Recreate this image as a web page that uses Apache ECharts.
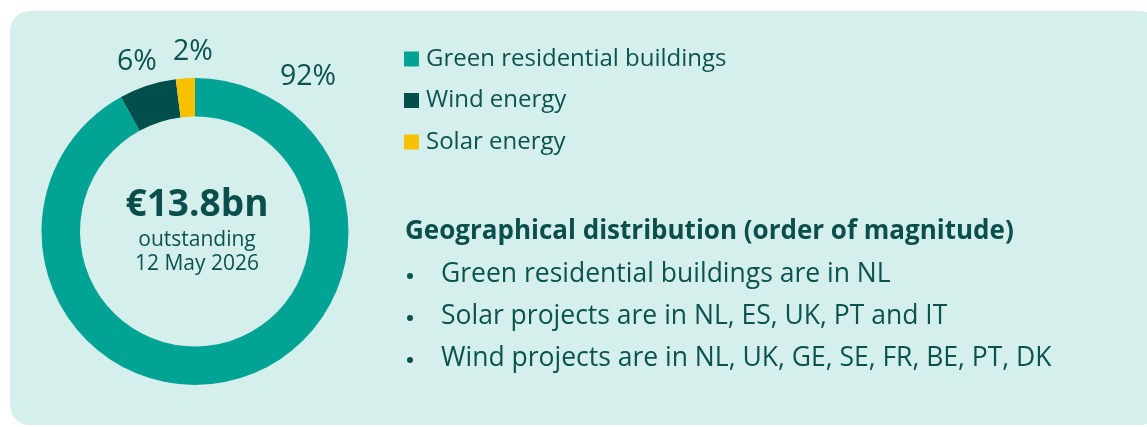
<!DOCTYPE html>
<html>
<head>
<meta charset="utf-8">
<script src="https://cdn.jsdelivr.net/npm/echarts@6/dist/echarts.min.js"></script>
<style>
  html, body { margin: 0; padding: 0; background: #ffffff; }
  #chart { width: 1147px; height: 427px; }
</style>
</head>
<body>
<div id="chart"></div>
<script>
// Portfolio split by asset type (share of total, %)
const categories = ['Green residential buildings', 'Wind energy', 'Solar energy'];
const shares = [92, 6, 2];

// Headline figure in the middle of the ring
const headline = '€13.8bn';
const subLines = ['outstanding', '12 May 2026'];

// Geographical notes
const geoTitle = 'Geographical distribution (order of magnitude)';
const geoBullets = [
  'Green residential buildings are in NL',
  'Solar projects are in NL, ES, UK, PT and IT',
  'Wind projects are in NL, UK, GE, SE, FR, BE, PT, DK'
];

const palette = ['#00a394', '#004f4d', '#f5c100'];
const ink = '#0a5350';
const FONT = '"Open Sans", sans-serif';

// Where each percentage label sits around the ring
const labelSpots = [
  { x: 308, y: 77 },
  { x: 137, y: 62 },
  { x: 193, y: 52 }
];

const chart = echarts.init(document.getElementById('chart'), null, { renderer: 'canvas' });

const textEls = [
  {
    type: 'text', x: 197, y: 205,
    style: { text: headline, fill: '#0b4f4c', font: 'bold 37px ' + FONT, textAlign: 'center', textVerticalAlign: 'middle' }
  },
  {
    type: 'text', x: 197, y: 240,
    style: { text: subLines[0], fill: ink, font: '21px ' + FONT, textAlign: 'center', textVerticalAlign: 'middle' }
  },
  {
    type: 'text', x: 197, y: 264,
    style: { text: subLines[1], fill: ink, font: '21px ' + FONT, textAlign: 'center', textVerticalAlign: 'middle' }
  },
  {
    type: 'text', x: 405, y: 232,
    style: { text: geoTitle, fill: '#0b4f4c', font: 'bold 26px ' + FONT, textVerticalAlign: 'middle' }
  }
];
geoBullets.forEach((t, i) => {
  const y = 274 + i * 42;
  // bullet marker
  textEls.push({
    type: 'circle', shape: { cx: 410, cy: y + 2, r: 3 },
    style: { fill: ink }
  });
  textEls.push({
    type: 'text', x: 441, y: y,
    style: { text: t, fill: ink, font: '26.5px ' + FONT, textVerticalAlign: 'middle' }
  });
});

chart.setOption({
  animation: false,
  color: palette,
  legend: {
    orient: 'vertical',
    left: 399,
    top: 42,
    icon: 'rect',
    itemWidth: 15,
    itemHeight: 15,
    itemGap: 17.5,
    selectedMode: false,
    data: categories,
    textStyle: {
      color: ink,
      fontFamily: FONT,
      fontSize: 24,
      lineHeight: 24,
      padding: [0, 0, 0, 2]
    }
  },
  graphic: [
    {
      type: 'rect', z: -10, silent: true,
      shape: { x: 10, y: 11, width: 1150, height: 414, r: 20 },
      style: { fill: '#d5efec' }
    }
  ].concat(textEls),
  series: [{
    type: 'pie',
    center: [195, 231.5],
    radius: [115, 153.5],
    startAngle: 90,
    clockwise: true,
    avoidLabelOverlap: false,
    silent: true,
    itemStyle: { borderWidth: 0 },
    label: {
      show: true,
      position: 'outside',
      formatter: '{c}%',
      color: ink,
      fontFamily: FONT,
      fontSize: 28.5
    },
    labelLine: { show: false },
    labelLayout: function (p) {
      const s = labelSpots[p.dataIndex];
      return { x: s.x, y: s.y, align: 'center', verticalAlign: 'middle' };
    },
    data: categories.map((n, i) => ({ name: n, value: shares[i] }))
  }]
});
</script>
</body>
</html>
